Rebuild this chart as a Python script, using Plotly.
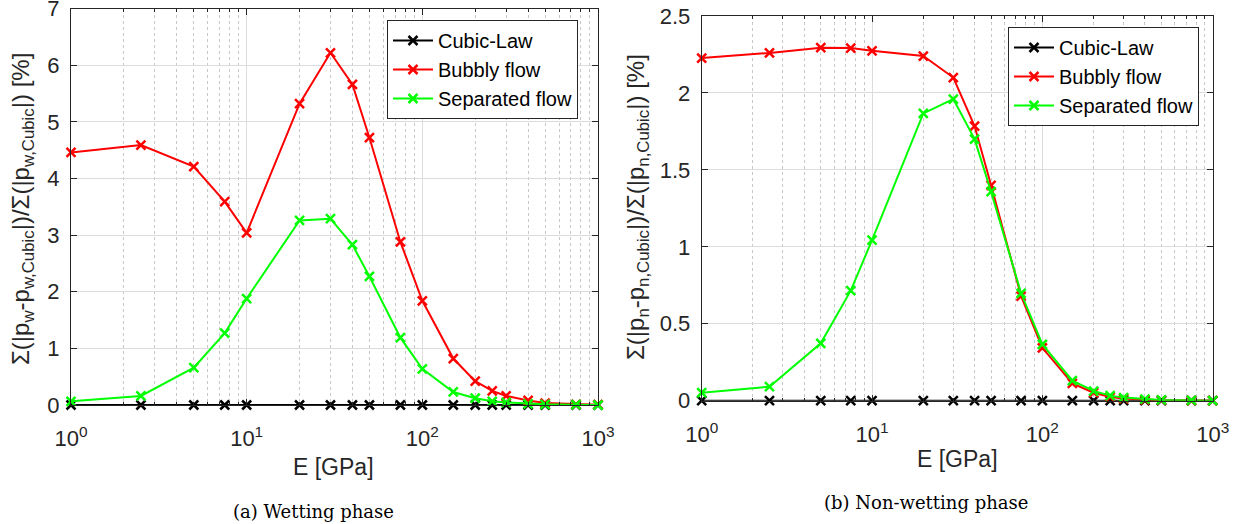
import plotly.graph_objects as go

E = [1, 2.5, 5, 7.5, 10, 20, 30, 40, 50, 75, 100, 150, 200, 250, 300, 400, 500, 750, 1000]

cubic_w = [0] * len(E)
bubbly_w = [4.46, 4.59, 4.21, 3.59, 3.04, 5.32, 6.22, 5.66, 4.72, 2.88, 1.84, 0.82, 0.42, 0.25, 0.16, 0.08, 0.035, 0.012, 0.005]
separated_w = [0.065, 0.16, 0.66, 1.27, 1.88, 3.26, 3.29, 2.83, 2.27, 1.19, 0.64, 0.23, 0.12, 0.065, 0.045, 0.02, 0.012, 0.005, 0.0]

cubic_n = [0] * len(E)
bubbly_n = [2.227, 2.26, 2.294, 2.292, 2.274, 2.24, 2.10, 1.785, 1.40, 0.68, 0.344, 0.113, 0.052, 0.024, 0.014, 0.006, 0.003, 0.001, 0.0]
separated_n = [0.052, 0.091, 0.373, 0.715, 1.044, 1.867, 1.96, 1.70, 1.358, 0.698, 0.366, 0.13, 0.063, 0.033, 0.02, 0.01, 0.005, 0.002, 0.0]

series_names = ["Cubic-Law", "Bubbly flow", "Separated flow"]
colors = ["#000000", "#FF0000", "#00FF00"]

xtick_vals = [1, 10, 100, 1000]
xtick_text = ["10<sup>0</sup>", "10<sup>1</sup>", "10<sup>2</sup>", "10<sup>3</sup>"]

FONT = "Liberation Sans, Arial, Helvetica, sans-serif"
SERIF = "DejaVu Serif, Liberation Serif, serif"
AX = "#262626"

fig = go.Figure()

for ys, name, col in zip([cubic_w, bubbly_w, separated_w], series_names, colors):
    fig.add_trace(go.Scatter(x=E, y=ys, name=name, mode="lines+markers",
                             line=dict(color=col, width=2),
                             marker=dict(symbol="x-thin", size=9, line=dict(color=col, width=2.5), color=col),
                             cliponaxis=False, xaxis="x", yaxis="y", legend="legend"))
for ys, name, col in zip([cubic_n, bubbly_n, separated_n], series_names, colors):
    fig.add_trace(go.Scatter(x=E, y=ys, name=name, mode="lines+markers",
                             line=dict(color=col, width=2),
                             marker=dict(symbol="x-thin", size=9, line=dict(color=col, width=2.5), color=col),
                             cliponaxis=False, xaxis="x2", yaxis="y2", legend="legend2"))

def xaxis(domain, anchor):
    return dict(type="log", range=[0, 3], domain=domain, anchor=anchor, automargin=False,
                tickvals=xtick_vals, ticktext=xtick_text, ticks="inside", ticklen=6,
                tickcolor=AX, linecolor=AX, linewidth=1, mirror="ticks", showline=True,
                showgrid=True, gridcolor="#dcdcdc", gridwidth=1, zeroline=False,
                ticklabelstandoff=14, ticklabeloverflow="allow",
                tickfont=dict(family=FONT, size=22, color=AX),
                minor=dict(ticks="inside", ticklen=3, tickcolor=AX, showgrid=True,
                           gridcolor="#c8c8c8", griddash="dot", gridwidth=1, dtick="D1"))

def yaxis(domain, anchor, rng, dt):
    return dict(range=rng, dtick=dt, tick0=0, domain=domain, anchor=anchor, automargin=False,
                ticks="inside", ticklen=6, tickcolor=AX, linecolor=AX, linewidth=1,
                mirror="ticks", showline=True, showgrid=True, gridcolor="#dcdcdc",
                ticklabelstandoff=6, ticklabeloverflow="allow",
                zeroline=False, tickfont=dict(family=FONT, size=22, color=AX))

legend_common = dict(bgcolor="white", bordercolor="#262626", borderwidth=1,
                     font=dict(family=FONT, size=20, color="#000000"),
                     xanchor="left", yanchor="top", tracegroupgap=0, itemwidth=40)

fig.update_layout(
    template="none",
    font=dict(family=FONT, color=AX),
    width=1242, height=524, margin=dict(l=0, r=0, t=0, b=0, pad=0),
    paper_bgcolor="white", plot_bgcolor="white",
    xaxis=xaxis([71 / 1242, 598 / 1242], "y"),
    yaxis=yaxis([1 - 405 / 524, 1 - 8.6 / 524], "x", [0, 7], 1),
    xaxis2=xaxis([701.7 / 1242, 1212.7 / 1242], "y2"),
    yaxis2=yaxis([1 - 400.7 / 524, 1 - 16 / 524], "x2", [0, 2.5], 0.5),
    legend=dict(x=387 / 1242, y=1 - 20 / 524, **legend_common),
    legend2=dict(x=1008 / 1242, y=1 - 27 / 524, **legend_common),
    showlegend=True,
)

ann = [
    dict(text="Σ(|p<sub>w</sub>-p<sub>w,Cubic</sub>|)/Σ(|p<sub>w,Cubic</sub>|) [%]", x=22 / 1242, y=1 - 209 / 524,
         textangle=-90, font=dict(family=FONT, size=24, color=AX)),
    dict(text="Σ(|p<sub>n</sub>-p<sub>n,Cubic</sub>|)/Σ(|p<sub>n,Cubic</sub>|) [%]", x=637 / 1242, y=1 - 207 / 524,
         textangle=-90, font=dict(family=FONT, size=24, color=AX)),
    dict(text="E [GPa]", x=333 / 1242, y=1 - 467 / 524, font=dict(family=FONT, size=23, color=AX)),
    dict(text="E [GPa]", x=957 / 1242, y=1 - 459 / 524, font=dict(family=FONT, size=23, color=AX)),
    dict(text="(a) Wetting phase", x=313.5 / 1242, y=1 - 511 / 524,
         font=dict(family=SERIF, size=18, color="#000000")),
    dict(text="(b) Non-wetting phase", x=926 / 1242, y=1 - 502 / 524,
         font=dict(family=SERIF, size=18, color="#000000")),
]
for a in ann:
    a.update(xref="paper", yref="paper", showarrow=False, xanchor="center", yanchor="middle")
fig.update_layout(annotations=ann)

fig.write_html("out.html")
